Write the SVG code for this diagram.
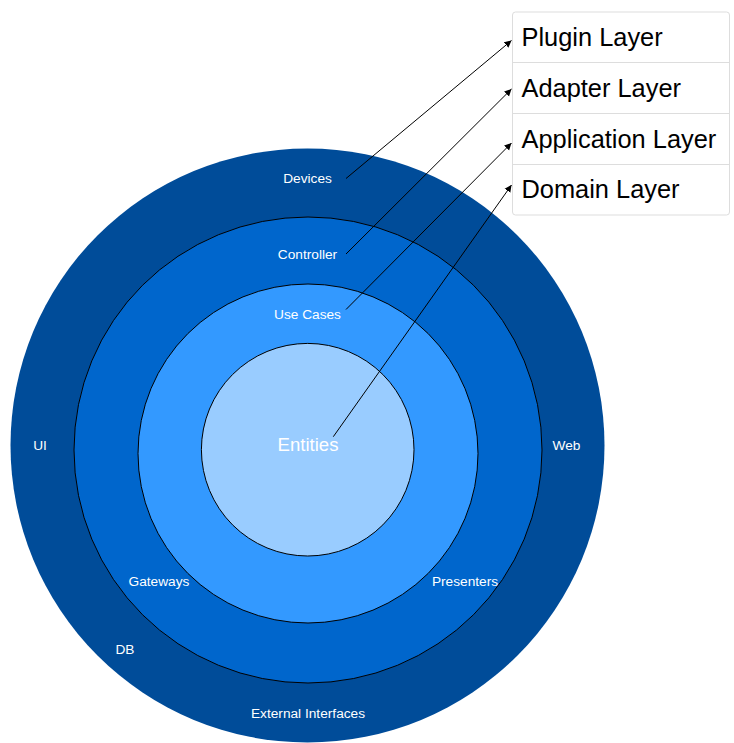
<svg xmlns="http://www.w3.org/2000/svg" width="734" height="743" viewBox="0 0 734 743">
<style>
.lbl{font-family:"Liberation Sans",Arial,sans-serif;font-size:13.7px;fill:#ffffff;text-anchor:middle}
.big{font-size:18.6px}
.leg{font-family:"Liberation Sans",Arial,sans-serif;font-size:25.4px;fill:#000000}
.ring{stroke:#000000;stroke-width:1}
.conn{stroke:#000000;stroke-width:1;fill:none;marker-end:url(#ah)}
</style>
<defs>
<marker id="ah" markerWidth="8" markerHeight="8" refX="7" refY="4" orient="auto" markerUnits="userSpaceOnUse">
<path d="M0,0.5 L7,4 L0,7.5 Z" fill="#000000"/>
</marker>
</defs>
<rect width="734" height="743" fill="#ffffff"/>
<g id="plugin-ring"><ellipse cx="307.5" cy="445.5" rx="297" ry="297" fill="#004C99"/></g>
<g id="adapter-ring"><ellipse class="ring" cx="308" cy="450" rx="234" ry="233" fill="#0066CC"/></g>
<g id="application-ring"><ellipse class="ring" cx="308" cy="453.5" rx="170" ry="169.5" fill="#3399FF"/></g>
<g id="domain-ring"><ellipse class="ring" cx="307.7" cy="449.7" rx="106.3" ry="106.3" fill="#99CCFF"/></g>
<g id="labels">
<text class="lbl" x="307.5" y="182.7">Devices</text>
<text class="lbl" x="307.5" y="259">Controller</text>
<text class="lbl" x="307.5" y="319">Use Cases</text>
<text class="lbl big" x="308" y="450.5">Entities</text>
<text class="lbl" x="40" y="450">UI</text>
<text class="lbl" x="566.5" y="449.5">Web</text>
<text class="lbl" x="159" y="586">Gateways</text>
<text class="lbl" x="465" y="586">Presenters</text>
<text class="lbl" x="125" y="654">DB</text>
<text class="lbl" x="308" y="718">External Interfaces</text>
</g>
<g id="legend">
<rect x="512.5" y="12" width="217" height="203" rx="3" ry="3" fill="#ffffff" stroke="#dddddd" stroke-width="1"/>
<line x1="512.5" y1="62.5" x2="729.5" y2="62.5" stroke="#dddddd"/>
<line x1="512.5" y1="113.5" x2="729.5" y2="113.5" stroke="#dddddd"/>
<line x1="512.5" y1="164.5" x2="729.5" y2="164.5" stroke="#dddddd"/>
<text class="leg" x="521.5" y="45.7">Plugin Layer</text>
<text class="leg" x="521.5" y="96.7">Adapter Layer</text>
<text class="leg" x="521.5" y="147.7">Application Layer</text>
<text class="leg" x="521.5" y="197.7">Domain Layer</text>
</g>
<g id="connectors">
<line class="conn" x1="346" y1="178.5" x2="511.5" y2="40.5"/>
<line class="conn" x1="346" y1="254" x2="511.5" y2="89"/>
<line class="conn" x1="346" y1="309.5" x2="511.5" y2="143"/>
<line class="conn" x1="333.3" y1="436.7" x2="511.5" y2="185"/>
</g>
</svg>
